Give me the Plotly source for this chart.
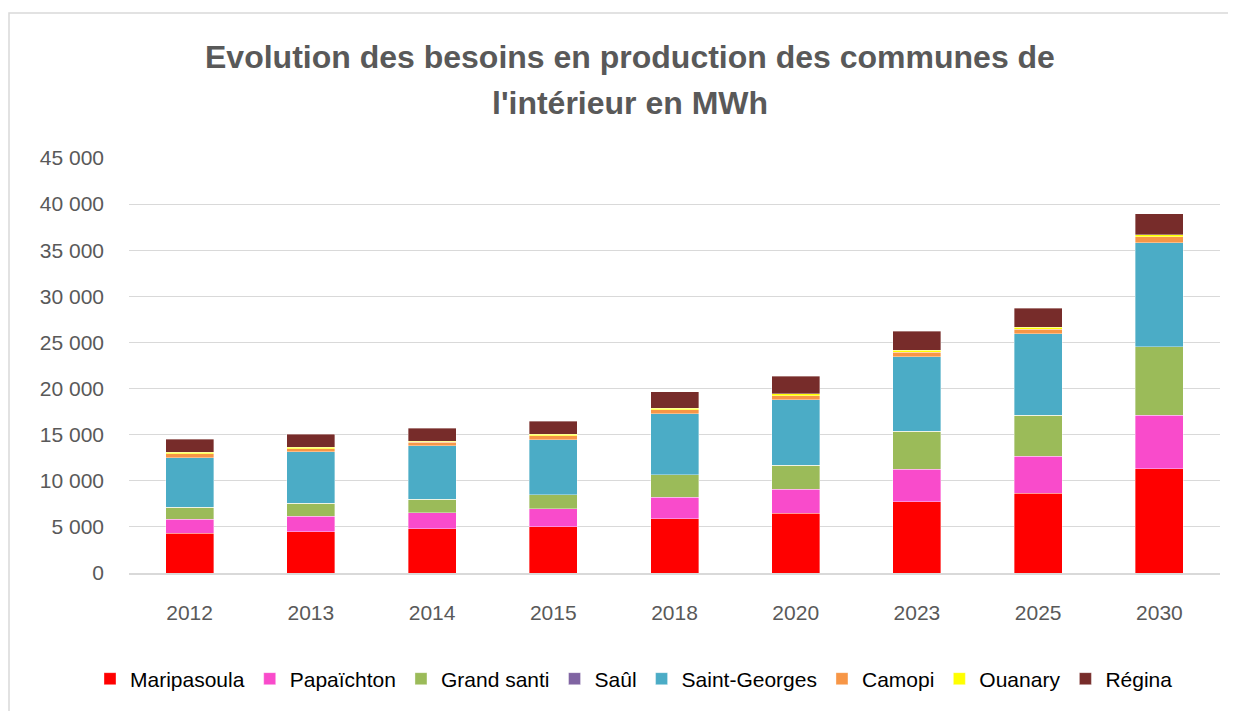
import plotly.graph_objects as go

years = ["2012", "2013", "2014", "2015", "2018", "2020", "2023", "2025", "2030"]
maripasoula = [4300, 4480, 4810, 5020, 5890, 6470, 7730, 8670, 11280]
papaichton = [1520, 1670, 1730, 1950, 2320, 2600, 3510, 3980, 5850]
grand_santi = [1300, 1410, 1450, 1520, 2420, 2640, 4130, 4450, 7410]
saul = [0, 0, 0, 0, 0, 0, 0, 0, 0]
saint_georges = [5380, 5600, 5810, 5960, 6650, 7080, 8090, 8850, 11280]
camopi = [440, 290, 370, 440, 430, 440, 500, 480, 650]
ouanary = [150, 210, 140, 180, 150, 210, 190, 210, 210]
regina = [1410, 1410, 1410, 1410, 1770, 1920, 2050, 2090, 2280]

series = [
    ("Maripasoula", maripasoula, "#FF0000"),
    ("Papaïchton", papaichton, "#F94BCB"),
    ("Grand santi", grand_santi, "#9BBB59"),
    ("Saûl", saul, "#8064A2"),
    ("Saint-Georges", saint_georges, "#4BACC6"),
    ("Camopi", camopi, "#F79646"),
    ("Ouanary", ouanary, "#FFFF00"),
    ("Régina", regina, "#772C2A"),
]

fig = go.Figure()
for name, vals, col in series:
    fig.add_trace(go.Bar(x=years, y=vals, name=name,
                         marker=dict(color=col, line=dict(color="rgba(255,255,255,0.6)", width=0.6))))

FONT = "Liberation Sans"
PL, PW, PB, PH = 129, 1091, 573, 415  # plot area in page pixels (for paper coords)
# page has an 8px body margin: figure occupies 1228x703 starting at (8,8)
fig.update_layout(
    barmode="stack",
    bargap=0.604,
    width=1228, height=703,
    margin=dict(l=121, r=16, t=150, b=138, autoexpand=False),
    paper_bgcolor="white", plot_bgcolor="white",
    separators=", ",
    font=dict(family=FONT, size=20, color="#595959"),
    showlegend=True,
    legend=dict(orientation="h", x=(634 - PL) / PW, xanchor="center", y=(PB - 679) / PH, yanchor="middle",
                font=dict(family=FONT, size=21, color="#000000"), traceorder="normal",
                itemwidth=30, tracegroupgap=0),
    xaxis=dict(showgrid=False, showline=True, linecolor="#D9D9D9", linewidth=1.5,
               ticks="", ticklabelstandoff=20, tickfont=dict(size=21, color="#595959")),
    yaxis=dict(range=[0, 45000], dtick=5000, showgrid=True, gridcolor="#D9D9D9", gridwidth=1.3,
               zeroline=False, showline=False, ticks="", tickformat=",.0f",
               ticklabelstandoff=24, tickfont=dict(size=21, color="#595959")),
    annotations=[
        dict(text="<b>Evolution des besoins en production des communes de</b>", xref="paper", yref="paper",
             x=(629.5 - PL) / PW, y=(PB - 57) / PH, xanchor="center", yanchor="middle", showarrow=False,
             font=dict(family=FONT, size=32, color="#595959")),
        dict(text="<b>l'intérieur en MWh</b>", xref="paper", yref="paper",
             x=(629.5 - PL) / PW, y=(PB - 103) / PH, xanchor="center", yanchor="middle", showarrow=False,
             font=dict(family=FONT, size=32, color="#595959")),
    ],
    shapes=[
        dict(type="rect", xref="paper", yref="paper",
             x0=(9 - PL) / PW, x1=(1260 - PL) / PW,
             y0=(PB - 730) / PH, y1=(PB - 13) / PH,
             line=dict(color="#D9D9D9", width=1.5), layer="below"),
    ],
)

fig.write_html("out.html")
